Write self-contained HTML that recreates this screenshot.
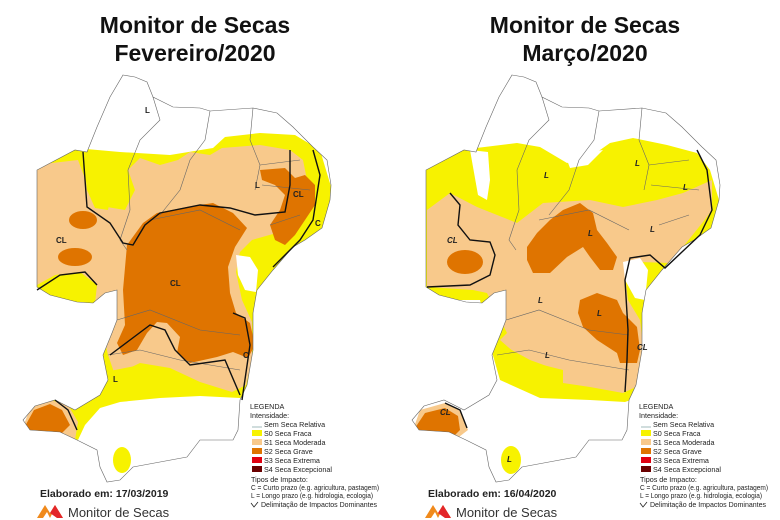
<!DOCTYPE html>
<html><head><meta charset="utf-8"><style>
html,body{margin:0;padding:0;background:#fff;}
svg{display:block;font-family:"Liberation Sans",sans-serif;}
.t{font-weight:bold;font-size:23px;fill:#111;}
.lg{font-size:7.2px;fill:#222;}
</style></head><body>
<svg width="780" height="520" viewBox="0 0 780 520" xmlns="http://www.w3.org/2000/svg">
<defs>
<path id="ol" d="M123,75 L135,77 L147,82 L153,97 L173,107 L200,108 L210,111 L253,108 L277,113 L293,127 L313,147 L327,160 L331,185 L330,200 L322,228 L305,240 L293,247 L273,270 L257,290 L253,313 L253,350 L247,385 L240,400 L238,430 L233,440 L200,440 L187,457 L133,467 L120,480 L107,482 L100,467 L97,450 L77,440 L60,432 L30,430 L23,420 L35,406 L55,400 L75,410 L100,395 L108,380 L103,355 L112,333 L117,320 L117,290 L105,293 L93,303 L77,302 L50,295 L37,287 L37,170 L75,150 L87,152 L97,127 L110,97 Z"/>
<clipPath id="cl"><use href="#ol"/></clipPath>
<clipPath id="cr"><use href="#ol" transform="translate(389,0)"/></clipPath>
</defs>
<rect width="780" height="520" fill="#fff"/>
<text class="t" x="195" y="33" text-anchor="middle">Monitor de Secas</text>
<text class="t" x="195" y="61" text-anchor="middle">Fevereiro/2020</text>
<text class="t" x="585" y="33" text-anchor="middle">Monitor de Secas</text>
<text class="t" x="585" y="61" text-anchor="middle">Março/2020</text>

<!-- LEFT MAP -->
<g clip-path="url(#cl)">
<path fill="#f7f200" d="M30,160 L75,148 L120,152 L170,155 L213,148 L225,137 L260,133 L295,135 L320,150 L335,200 L320,240 L290,260 L262,300 L255,390 L240,398 L200,396 L160,398 L120,402 L100,408 L85,425 L78,440 L60,432 L30,432 L20,300 Z"/>
<path fill="#f8c98b" d="M35,165 L78,160 L95,205 L125,210 L135,190 L128,170 L140,158 L160,165 L178,160 L190,152 L210,155 L222,148 L260,145 L290,150 L303,160 L310,195 L298,215 L280,232 L252,240 L240,252 L236,272 L242,300 L252,322 L252,360 L246,385 L232,392 L200,382 L170,368 L140,363 L115,375 L108,355 L100,320 L95,300 L80,280 L60,283 L45,298 L35,292 Z"/>
<path fill="#f7f200" d="M83,152 L95,150 L110,160 L112,190 L108,210 L95,208 L87,190 Z"/>
<path fill="#f7f200" d="M37,285 L55,275 L80,272 L97,285 L95,303 L60,300 L37,298 Z"/>
<path fill="#f7f200" d="M105,372 L140,365 L175,372 L205,385 L215,393 L170,396 L130,400 L103,398 Z"/>
<path fill="#fff" d="M236,255 L250,257 L258,270 L256,292 L245,290 L238,275 Z"/>
<path fill="#df7400" d="M143,223 L157,213 L187,207 L213,203 L233,213 L247,228 L235,247 L228,267 L230,293 L236,313 L250,323 L255,345 L248,358 L233,352 L217,357 L190,363 L177,353 L180,337 L167,323 L157,322 L147,333 L137,350 L123,355 L117,343 L125,325 L123,290 L127,245 Z"/>
<path fill="#df7400" d="M260,170 L285,168 L295,178 L305,175 L315,185 L315,205 L305,220 L295,235 L285,245 L275,240 L270,225 L280,210 L285,195 L275,185 L262,180 Z"/>
<ellipse cx="83" cy="220" rx="14" ry="9" fill="#df7400"/>
<ellipse cx="75" cy="257" rx="17" ry="9" fill="#df7400"/>
<path fill="#f8c98b" d="M22,430 L30,408 L50,400 L68,405 L78,422 L75,440 L40,440 Z"/>
<path fill="#df7400" d="M24,428 L34,410 L50,404 L62,410 L70,425 L60,435 L30,435 Z"/>
<ellipse cx="122" cy="460" rx="9" ry="13" fill="#f7f200"/>
</g>
<g fill="none" stroke="#666" stroke-width="0.6">
<use href="#ol"/>
<path d="M153,97 L160,120 L140,140 L128,170 L130,210 L120,240 L127,250 M210,111 L205,140 L190,160 L180,190 L160,215 M253,108 L250,140 L260,165 L255,190 M260,165 L300,160 M262,185 L310,190 M270,225 L300,215 M150,220 L200,210 L240,230 M117,320 L150,310 L200,330 L240,335 M108,355 L140,350 L180,360 L240,370"/>
</g>
<g fill="none" stroke="#111" stroke-width="1.4">
<path d="M83,152 L87,207 L110,223 L123,243 L133,245 L145,225 L160,213 L200,205 L230,208 L255,215 L285,212 L290,185 L290,150"/>
<path d="M313,150 L320,175 L313,220 L300,240 L273,267"/>
<path d="M37,290 L60,275 L85,272 L97,285"/>
<path d="M110,355 L130,340 L150,325 L165,330 L175,350 L190,365 L225,360 L240,395 M233,313 L245,318 L250,345 L242,400"/>
<path d="M55,400 L68,410 L77,430"/>
</g>
<g font-weight="bold" font-size="8" fill="#222">
<text x="145" y="113">L</text><text x="255" y="188">L</text><text x="293" y="197">CL</text>
<text x="170" y="286">CL</text><text x="56" y="243">CL</text><text x="243" y="358">C</text>
<text x="113" y="382">L</text><text x="315" y="226">C</text>
</g>

<!-- RIGHT MAP -->
<g clip-path="url(#cr)">
<path fill="#f7f200" d="M460,150 L517,143 L540,147 L567,163 L590,157 L610,143 L633,138 L667,145 L697,153 L710,170 L725,220 L710,260 L680,270 L650,300 L645,395 L625,402 L590,400 L540,398 L500,380 L490,345 L480,300 L420,300 L420,160 Z"/>
<path fill="#fff" d="M567,160 L590,152 L603,150 L588,165 L570,168 Z"/>
<path fill="#fff" d="M470,150 L488,152 L490,180 L487,200 L478,195 Z"/>
<path fill="#f8c98b" d="M427,210 L450,193 L477,207 L517,223 L543,203 L590,200 L623,207 L657,200 L683,193 L712,180 L712,210 L703,222 L670,263 L640,262 L625,275 L628,300 L640,320 L645,360 L640,385 L623,393 L590,387 L563,383 L563,370 L523,360 L500,340 L507,333 L487,293 L473,290 L427,287 Z"/>
<path fill="#f7f200" d="M497,342 L530,360 L563,372 L560,390 L520,388 L500,375 Z"/>
<path fill="#fff" d="M623,262 L640,258 L648,270 L645,300 L635,298 L625,280 Z"/>
<path fill="#df7400" d="M527,247 L537,233 L550,220 L563,210 L580,203 L593,213 L597,230 L607,243 L617,257 L613,270 L600,270 L590,257 L583,247 L567,257 L550,273 L533,273 L527,260 Z"/>
<path fill="#df7400" d="M580,300 L597,293 L617,300 L623,313 L637,327 L640,350 L637,363 L620,363 L617,353 L597,340 L583,327 L578,313 Z"/>
<ellipse cx="465" cy="262" rx="18" ry="12" fill="#df7400"/>
<path fill="#f8c98b" d="M413,430 L420,410 L445,403 L460,410 L468,430 L455,440 L420,440 Z"/>
<path fill="#df7400" d="M415,428 L425,413 L445,408 L458,416 L460,430 L450,440 L420,438 Z"/>
<ellipse cx="511" cy="460" rx="10" ry="14" fill="#f7f200"/>
</g>
<g fill="none" stroke="#666" stroke-width="0.6">
<use href="#ol" transform="translate(389,0)"/>
<path transform="translate(389,0)" d="M153,97 L160,120 L140,140 L128,170 L130,210 L120,240 L127,250 M210,111 L205,140 L190,160 L180,190 L160,215 M253,108 L250,140 L260,165 L255,190 M260,165 L300,160 M262,185 L310,190 M270,225 L300,215 M150,220 L200,210 L240,230 M117,320 L150,310 L200,330 L240,335 M108,355 L140,350 L180,360 L240,370"/>
</g>
<g fill="none" stroke="#111" stroke-width="1.4">
<path d="M450,193 L460,205 L458,225 L470,240 L490,242 L495,255 L490,275 L470,285 L427,287"/>
<path d="M697,150 L707,170 L712,210 L700,235 L665,268 L650,255 L630,258 L625,280 L628,330 L627,360 L625,392"/>
<path d="M445,403 L460,410 L467,428"/>
</g>
<g font-weight="bold" font-style="italic" font-size="8" fill="#222">
<text x="544" y="178">L</text><text x="635" y="166">L</text><text x="683" y="190">L</text>
<text x="588" y="236">L</text><text x="650" y="232">L</text><text x="447" y="243">CL</text>
<text x="538" y="303">L</text><text x="597" y="316">L</text><text x="637" y="350">CL</text>
<text x="545" y="358">L</text><text x="440" y="415">CL</text><text x="507" y="462">L</text>
</g>

<!-- LEGENDS -->
<g id="leg">
<text class="lg" x="250" y="409" font-size="8.5">LEGENDA</text>
<text class="lg" x="250" y="418" font-size="8">Intensidade:</text>
<line x1="252" y1="427" x2="262" y2="427" stroke="#8aa" stroke-width="0.8"/>
<text class="lg" x="264" y="427">Sem Seca Relativa</text>
<rect x="252" y="430" width="10" height="6" fill="#f7f200"/><text class="lg" x="264" y="436">S0 Seca Fraca</text>
<rect x="252" y="439" width="10" height="6" fill="#f8c98b"/><text class="lg" x="264" y="445">S1 Seca Moderada</text>
<rect x="252" y="448" width="10" height="6" fill="#df7400"/><text class="lg" x="264" y="454">S2 Seca Grave</text>
<rect x="252" y="457" width="10" height="6" fill="#e00010"/><text class="lg" x="264" y="463">S3 Seca Extrema</text>
<rect x="252" y="466" width="10" height="6" fill="#6a0000"/><text class="lg" x="264" y="472">S4 Seca Excepcional</text>
<text class="lg" x="251" y="482" font-size="8.5">Tipos de Impacto:</text>
<text class="lg" x="251" y="490" font-size="6.5" textLength="128" lengthAdjust="spacingAndGlyphs">C = Curto prazo (e.g. agricultura, pastagem)</text>
<text class="lg" x="251" y="498" font-size="6.5" textLength="122" lengthAdjust="spacingAndGlyphs">L = Longo prazo (e.g. hidrologia, ecologia)</text>
<path d="M251,503 L254,507 L258,502" fill="none" stroke="#222" stroke-width="0.8"/>
<text class="lg" x="261" y="507" font-size="6.5" textLength="116" lengthAdjust="spacingAndGlyphs">Delimitação de Impactos Dominantes</text>
</g>
<use href="#leg" transform="translate(389,0)"/>

<!-- FOOTERS -->
<text x="40" y="497" font-size="10.5" font-weight="bold" fill="#222">Elaborado em: 17/03/2019</text>
<text x="428" y="497" font-size="10.5" font-weight="bold" fill="#222">Elaborado em: 16/04/2020</text>
<g id="logo">
<path d="M37,518 L45,505 L50,513 L55,505 L63,518 L57,518 L53,512 L50,518 L47,512 L43,518 Z" fill="#f08a1c"/>
<path d="M50,513 L55,505 L63,518 L57,518 Z" fill="#e3262a"/>
<text x="68" y="517" font-size="13" fill="#333">Monitor de Secas</text>
</g>
<use href="#logo" transform="translate(388,0)"/>
</svg>
</body></html>
